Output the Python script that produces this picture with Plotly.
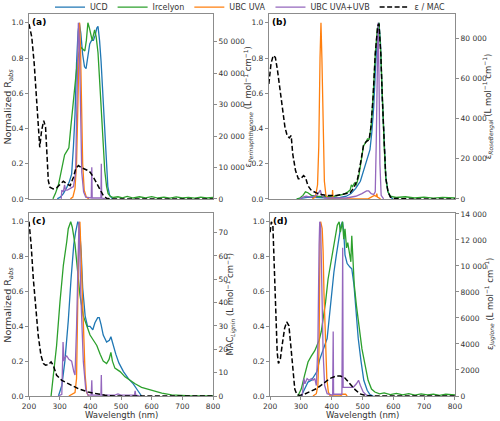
import plotly.graph_objects as go

# Data: (wavelength nm, value) pairs
# colour series are normalized R_abs, dashed series are epsilon / MAC in real units

# (a) Perinaphthenone
A_UCD = [(292, 0), (302, 0.01), (312, 0.03), (322, 0.06), (332, 0.1), (339, 0.14), (345, 0.3), (350, 0.48),
         (355, 0.77), (360, 0.95), (364, 1.0), (369, 0.94), (375, 0.82), (381, 0.75), (386, 0.74), (392, 0.8),
         (398, 0.88), (404, 0.9), (410, 0.9), (416, 0.93), (421, 0.97), (425, 0.98), (430, 0.9), (435, 0.78),
         (440, 0.62), (444, 0.45), (448, 0.29), (453, 0.15), (457, 0.07), (463, 0.02), (472, 0)]
A_IRC = [(278, 0), (286, 0.03), (296, 0.08), (306, 0.16), (316, 0.25), (323, 0.27), (330, 0.29), (337, 0.42),
         (344, 0.55), (350, 0.65), (357, 0.77), (363, 0.83), (370, 0.86), (376, 0.85), (382, 0.84), (387, 0.9),
         (392, 1.0), (397, 0.97), (401, 0.93), (406, 0.9), (410, 0.93), (414, 0.96), (419, 0.92), (425, 0.83),
         (430, 0.68), (436, 0.5), (441, 0.32), (447, 0.16), (453, 0.07), (458, 0.03), (465, 0.015), (475, 0.008),
         (490, 0.012), (505, 0.006), (520, 0.014), (540, 0.005), (560, 0.012), (580, 0.006), (600, 0.013),
         (620, 0.005), (640, 0.01), (660, 0.004), (680, 0.011), (700, 0.005), (720, 0.009), (740, 0.004),
         (760, 0.01), (780, 0.005), (800, 0.008)]
A_UVA = [(335, 0), (343, 0.01), (350, 0.06), (355, 0.2), (359, 0.5), (362, 0.85), (365, 1.0), (368, 0.85),
         (371, 0.5), (375, 0.2), (380, 0.05), (387, 0.01), (395, 0)]
A_UVB = [(305, 0), (307, 0.05), (312, 0.04), (316, 0.08), (319, 0.05), (325, 0.05), (335, 0.06), (345, 0.07),
         (352, 0.15), (357, 0.6), (361, 1.0), (364, 0.9), (368, 0.45), (372, 0.15), (378, 0.04), (385, 0.01),
         (403, 0.005), (404.7, 0.18), (406, 0.005), (434.5, 0.005), (435.8, 0.2), (437, 0.005), (450, 0)]
A_EPS = [(200, 55600), (209, 51500), (217, 43000), (225, 32400), (230, 22800), (235, 16400), (241, 21700),
         (248, 24900), (254, 22800), (259, 14300), (263, 5800), (268, 3700), (279, 3200), (290, 3500),
         (301, 4600), (312, 5600), (323, 4800), (334, 4200), (345, 6900), (352, 9500), (361, 10600),
         (372, 9900), (388, 9200), (399, 8500), (410, 6900), (421, 4800), (432, 2700), (442, 1100),
         (453, 200), (464, 0), (800, 0)]

# (b) Rose Bengal
B_UCD = [(290, 0), (310, 0.005), (330, 0.01), (360, 0.008), (400, 0.005), (430, 0.008), (450, 0.015),
         (465, 0.03), (480, 0.06), (495, 0.1), (505, 0.16), (513, 0.21), (520, 0.24), (526, 0.28), (532, 0.38),
         (538, 0.52), (544, 0.75), (550, 0.93), (555, 1.0), (560, 0.88), (565, 0.6), (571, 0.3), (577, 0.12),
         (584, 0.04), (592, 0.01), (600, 0)]
B_IRC = [(290, 0), (300, 0.005), (310, 0.02), (318, 0.04), (326, 0.035), (337, 0.02), (353, 0.015),
         (380, 0.012), (410, 0.015), (440, 0.025), (455, 0.04), (462, 0.05), (466, 0.08), (470, 0.07),
         (476, 0.09), (482, 0.08), (490, 0.13), (497, 0.22), (505, 0.3), (512, 0.32), (518, 0.34), (524, 0.34),
         (530, 0.42), (536, 0.58), (543, 0.82), (550, 0.97), (555, 1.0), (561, 0.82), (566, 0.56), (572, 0.29),
         (577, 0.12), (584, 0.04), (592, 0.015), (610, 0.008), (640, 0.012), (670, 0.005), (700, 0.01),
         (730, 0.004), (760, 0.009), (800, 0.005)]
B_UVA = [(340, 0), (350, 0.01), (357, 0.08), (361, 0.3), (365, 0.8), (368, 1.0), (371, 0.8), (375, 0.35),
         (379, 0.1), (384, 0.02), (392, 0), (404, 0), (405.5, 0.05), (407, 0), (520, 0), (530, 0.01),
         (540, 0.02), (546, 0.015), (548, 0.03), (550, 0.01), (560, 0)]
B_UVB = [(300, 0), (310, 0.01), (320, 0.015), (335, 0.01), (355, 0.02), (362, 0.04), (366, 0.05), (370, 0.02),
         (380, 0.005), (450, 0.005), (480, 0.015), (500, 0.03), (515, 0.045), (522, 0.045), (530, 0.03),
         (538, 0.025), (543, 0.04), (546, 0.3), (549, 0.85), (552, 1.0), (555, 0.7), (558, 0.2), (562, 0.02),
         (570, 0)]
B_EPS = [(200, 57300), (207, 67400), (214, 71500), (221, 70600), (228, 64000), (236, 54000), (245, 44000),
         (252, 35700), (259, 31600), (266, 30400), (272, 31600), (277, 22400), (286, 14100), (295, 10000),
         (303, 10000), (312, 11600), (318, 10800), (326, 6600), (337, 4200), (353, 3000), (370, 2200),
         (386, 1700), (418, 1700), (440, 2200), (462, 3000), (475, 5800), (486, 10000), (497, 19100),
         (505, 26600), (514, 28600), (523, 29400), (529, 35700), (536, 50800), (543, 72300), (551, 86500),
         (555, 87300), (561, 72000), (566, 49200), (572, 25500), (577, 10500), (584, 3500), (592, 900),
         (603, 250), (650, 0), (800, 0)]

# (c) Lignin
C_UCD = [(296, 0), (307, 0.06), (317, 0.2), (328, 0.43), (337, 0.67), (346, 0.87), (352, 0.94), (359, 1.0),
         (364, 0.98), (370, 0.83), (375, 0.62), (383, 0.46), (391, 0.4), (399, 0.4), (408, 0.38), (415, 0.42),
         (424, 0.45), (429, 0.45), (435, 0.41), (442, 0.35), (453, 0.31), (462, 0.32), (467, 0.34), (473, 0.3),
         (483, 0.24), (493, 0.19), (508, 0.14), (524, 0.1), (540, 0.07), (554, 0.033), (562, 0.013), (567, 0)]
C_IRC = [(272, 0), (279, 0.1), (290, 0.29), (301, 0.54), (312, 0.75), (323, 0.885), (328, 0.96), (336, 1.0),
         (341, 0.97), (350, 0.87), (359, 0.71), (366, 0.58), (377, 0.46), (388, 0.4), (399, 0.35), (410, 0.32),
         (421, 0.29), (432, 0.24), (442, 0.2), (453, 0.186), (461, 0.21), (467, 0.25), (472, 0.2), (480, 0.16),
         (497, 0.14), (513, 0.11), (529, 0.09), (546, 0.07), (567, 0.05), (600, 0.033), (633, 0.017),
         (665, 0.006), (700, 0.002), (730, 0), (800, 0)]
C_UVA = [(330, 0), (339, 0.01), (350, 0.02), (355, 0.1), (359, 0.48), (363, 0.98), (366, 1.0), (372, 0.67),
         (377, 0.33), (383, 0.12), (388, 0.02), (395, 0)]
C_UVB = [(296, 0), (307, 0.01), (311, 0.31), (314, 0.2), (317, 0.22), (323, 0.23), (330, 0.21), (339, 0.2),
         (346, 0.14), (350, 0.12), (355, 0.39), (361, 0.98), (363, 1.0), (369, 0.58), (377, 0.2), (385, 0.04),
         (392, 0.005), (403, 0.005), (404.7, 0.09), (406, 0.005), (434.5, 0.005), (435.8, 0.12), (437, 0.005),
         (480, 0.005), (490, 0.012), (500, 0.005), (544, 0.005), (546, 0.03), (548, 0.005), (560, 0)]
C_MAC = [(200, 74.7), (207, 64.7), (214, 50.4), (222, 37.5), (230, 26.0), (239, 17.4), (247, 13.9),
         (254, 13.2), (263, 13.4), (272, 14.6), (279, 13.2), (290, 8.9), (307, 6.7), (328, 5.3), (361, 3.1),
         (393, 1.7), (421, 0.9), (448, 0.3), (480, 0), (800, 0)]

# (d) Juglone
D_UCD = [(301, 0), (312, 0.04), (323, 0.08), (334, 0.09), (345, 0.12), (352, 0.14), (361, 0.21), (370, 0.25),
         (377, 0.29), (385, 0.33), (391, 0.44), (399, 0.58), (407, 0.71), (415, 0.81), (424, 0.92), (430, 0.98),
         (435, 1.0), (439, 0.94), (443, 0.81), (450, 0.76), (459, 0.74), (465, 0.73), (472, 0.64), (478, 0.48),
         (486, 0.33), (495, 0.2), (504, 0.09), (515, 0.033), (524, 0.008), (535, 0)]
D_IRC = [(290, 0), (301, 0.04), (312, 0.12), (323, 0.195), (334, 0.23), (345, 0.26), (352, 0.29), (359, 0.32),
         (366, 0.37), (372, 0.44), (380, 0.54), (388, 0.67), (396, 0.75), (404, 0.83), (412, 0.9), (418, 0.98),
         (424, 1.0), (428, 0.94), (435, 1.0), (439, 0.9), (443, 0.96), (448, 0.85), (452, 0.88), (457, 0.81),
         (462, 0.77), (465, 0.92), (468, 0.77), (473, 0.64), (480, 0.52), (489, 0.41), (498, 0.27), (508, 0.18),
         (518, 0.09), (529, 0.04), (540, 0.023), (555, 0.012), (570, 0.018), (590, 0.008), (610, 0.015),
         (630, 0.006), (650, 0.013), (670, 0.005), (690, 0.012), (710, 0.006), (730, 0.011), (750, 0.004),
         (770, 0.01), (800, 0.006)]
D_UVA = [(339, 0), (350, 0.013), (355, 0.06), (359, 0.29), (362, 0.94), (364, 1.0), (369, 0.96), (372, 0.83),
         (375, 0.58), (379, 0.29), (384, 0.1), (389, 0.023), (395, 0), (428, 0), (435, 0.01), (445, 0.01),
         (450, 0)]
D_UVB = [(304, 0), (310, 0.1), (313, 0.07), (320, 0.1), (326, 0.09), (334, 0.1), (339, 0.09), (345, 0.1),
         (350, 0.06), (355, 0.29), (359, 0.87), (361, 1.0), (364, 0.98), (367, 0.67), (372, 0.25), (377, 0.06),
         (385, 0.013), (403, 0.005), (404.7, 0.37), (406, 0.01), (433, 0.01), (435.5, 0.85), (437, 0.05),
         (453, 0.05), (470, 0.05), (480, 0.07), (487, 0.09), (493, 0.06), (502, 0.023), (513, 0.004), (525, 0)]
D_EPS = [(200, 12600), (204, 13400), (209, 13100), (213, 10300), (217, 6400), (223, 3350), (227, 2500),
         (233, 2800), (239, 3900), (247, 5200), (254, 5700), (261, 5400), (267, 3900), (274, 2100), (280, 540),
         (287, 110), (296, 50), (312, 150), (328, 310), (350, 560), (372, 940), (393, 1340), (415, 1540),
         (428, 1540), (442, 1400), (459, 940), (475, 510), (491, 170), (508, 50), (530, 0), (800, 0)]

PANELS = ["(a)", "(b)", "(c)", "(d)"]
SERIES = ["UCD", "Ircelyon", "UBC UVA", "UBC UVA+UVB"]
COLORS = ["#1f77b4", "#2ca02c", "#ff7f0e", "#9467bd"]
NORM_DATA = [[A_UCD, A_IRC, A_UVA, A_UVB],
             [B_UCD, B_IRC, B_UVA, B_UVB],
             [C_UCD, C_IRC, C_UVA, C_UVB],
             [D_UCD, D_IRC, D_UVA, D_UVB]]
EPS_DATA = [A_EPS, B_EPS, C_MAC, D_EPS]

# right axis ticks
RIGHT_TICKS = [[0, 10000, 20000, 30000, 40000, 50000],
               [0, 20000, 40000, 60000, 80000],
               [0, 10, 20, 30, 40, 50, 60, 70],
               [0, 2000, 4000, 6000, 8000, 10000, 12000, 14000]]
RIGHT_TEXT = [["0", "10 000", "20 000", "30 000", "40 000", "50 000"],
              ["0", "20 000", "40 000", "60 000", "80 000"],
              ["0", "10", "20", "30", "40", "50", "60", "70"],
              ["0", "2000", "4000", "6000", "8000", "10 000", "12 000", "14 000"]]
RIGHT_MAX = [58800, 92200, 78.4, 14070]

UNIT = " (L mol<sup>−1</sup> cm<sup>−1</sup>)"
# panel (b) left title sits on top of panel (a) right title in the reference, shown once
LEFT_TITLES = ["Normalized R<sub><i>abs</i></sub>", "",
               "Normalized R<sub><i>abs</i></sub>", ""]
RIGHT_TITLES = ["ε<sub><i>Perinaphthenone</i></sub>" + UNIT, "ε<sub><i>RoseBengal</i></sub>" + UNIT,
                "MAC<sub><i>Lignin</i></sub>" + UNIT, "ε<sub><i>Juglone</i></sub>" + UNIT]

FONT = "DejaVu Sans"
FRAME = "#8c8c8c"
TXT = "#333333"

fig = go.Figure()

# plot area positions (paper coords)
X_DOM = [[0, 0.432], [0.563, 1.0], [0, 0.432], [0.566, 1.0]]
Y_DOM = [[0.516, 1.0], [0.516, 1.0], [0, 0.479], [0, 0.479]]
# axis title positions (paper coords), placed as fixed annotations
LEFT_TITLE_X = [-0.049, 0.5, -0.049, 0.5]
RIGHT_TITLE_X = [0.514, 1.077, 0.472, 1.081]
XTITLE_Y = -0.05

for p in range(4):
    xa = "x" if p == 0 else f"x{p + 1}"
    yl = "y" if p == 0 else f"y{2 * p + 1}"
    yr = f"y{2 * p + 2}"
    for s in range(4):
        pts = NORM_DATA[p][s]
        fig.add_trace(go.Scatter(x=[q[0] for q in pts], y=[q[1] for q in pts], mode="lines",
                                 name=SERIES[s], legendgroup=SERIES[s], showlegend=(p == 0),
                                 line=dict(color=COLORS[s], width=1.3),
                                 xaxis=xa, yaxis=yl))
    pts = EPS_DATA[p]
    fig.add_trace(go.Scatter(x=[q[0] for q in pts], y=[q[1] for q in pts], mode="lines",
                             name="ε / MAC", legendgroup="eps", showlegend=(p == 0),
                             line=dict(color="black", width=1.5, dash="5px,2.5px"),
                             xaxis=xa, yaxis=yr))

    bottom = p >= 2
    xkey = "xaxis" if p == 0 else f"xaxis{p + 1}"
    ylkey = "yaxis" if p == 0 else f"yaxis{2 * p + 1}"
    yrkey = f"yaxis{2 * p + 2}"
    fig.layout[xkey] = dict(domain=X_DOM[p], anchor=yl, range=[200, 800],
                            tickvals=[200, 300, 400, 500, 600, 700, 800],
                            showticklabels=bottom, ticks="outside" if bottom else "",
                            ticklen=3, tickcolor=FRAME, tickfont=dict(size=7.5, color=TXT),
                            showline=True, linecolor=FRAME, linewidth=1, mirror=True,
                            showgrid=False, zeroline=False, automargin=False)
    fig.layout[ylkey] = dict(domain=Y_DOM[p], anchor=xa, range=[0, 1.05],
                             tickvals=[0, 0.2, 0.4, 0.6, 0.8, 1.0],
                             ticktext=["0.0", "0.2", "0.4", "0.6", "0.8", "1.0"],
                             ticks="outside", ticklen=3, tickcolor=FRAME,
                             tickfont=dict(size=7.5, color=TXT),
                             showline=True, linecolor=FRAME, linewidth=1, mirror=True,
                             showgrid=False, zeroline=False, automargin=False)
    fig.layout[yrkey] = dict(overlaying=yl, anchor=xa, side="right", range=[0, RIGHT_MAX[p]],
                             tickvals=RIGHT_TICKS[p], ticktext=RIGHT_TEXT[p],
                             ticks="outside", ticklen=3, tickcolor=FRAME,
                             tickfont=dict(size=7.5, color=TXT),
                             showline=True, linecolor=FRAME, linewidth=1,
                             showgrid=False, zeroline=False, automargin=False)

    # panel label
    fig.add_annotation(text=f"<b>{PANELS[p]}</b>", xref=f"{xa} domain", yref=f"{yl} domain",
                       x=0.005, y=0.995, xanchor="left", yanchor="top", showarrow=False,
                       font=dict(size=9, color="black"))
    # axis titles
    ymid = sum(Y_DOM[p]) / 2
    if LEFT_TITLES[p]:
        fig.add_annotation(text=LEFT_TITLES[p], xref="paper", yref="paper", x=LEFT_TITLE_X[p], y=ymid,
                           textangle=-90, xanchor="center", yanchor="middle", showarrow=False,
                           font=dict(size=9.5, color=TXT))
    fig.add_annotation(text=RIGHT_TITLES[p], xref="paper", yref="paper", x=RIGHT_TITLE_X[p], y=ymid,
                       textangle=-90, xanchor="center", yanchor="middle", showarrow=False,
                       font=dict(size=8.5, color=TXT))
    if bottom:
        fig.add_annotation(text="Wavelength (nm)", xref="paper", yref="paper", x=sum(X_DOM[p]) / 2,
                           y=XTITLE_Y, xanchor="center", yanchor="middle", showarrow=False,
                           font=dict(size=8.5, color=TXT))

fig.update_layout(
    width=500, height=421,
    margin=dict(l=29, r=45, t=14, b=25, autoexpand=False),
    template="none",
    paper_bgcolor="white", plot_bgcolor="white",
    font=dict(family=FONT, size=8, color=TXT),
    legend=dict(orientation="h", x=0.5, xanchor="center", xref="container",
                y=1.018, yanchor="middle", yref="paper", font=dict(size=8, color=TXT),
                bgcolor="rgba(0,0,0,0)", tracegroupgap=0, itemwidth=30),
    showlegend=True,
)

# the page body has a default 8px margin; drop it so the figure fills the window
fig.write_html("out.html", config={"displayModeBar": False},
               post_script="document.body.style.margin='0px';")
